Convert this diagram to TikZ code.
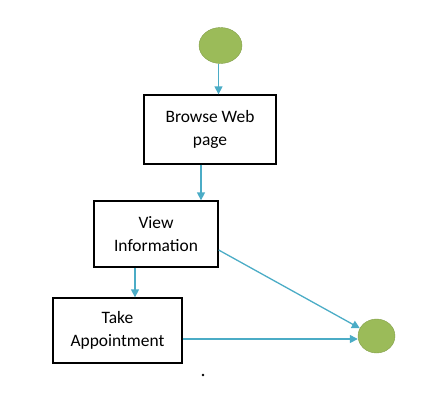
\documentclass[tikz,border=0pt]{standalone}
\usepackage{fontspec}
\setmainfont{Carlito}
\usetikzlibrary{shapes.geometric,arrows.meta}
\definecolor{flowteal}{HTML}{4BACC6}
\definecolor{circgreen}{HTML}{9BBB59}
\tikzset{
  stepbox/.style={draw=black,line width=1.3bp,fill=white,minimum width=#1,align=center,inner sep=0pt,
    font=\fontsize{17.5}{23}\selectfont},
  circ/.style={ellipse,fill=circgreen,draw=circgreen!85!black,line width=0.4bp,inner sep=0pt},
  flow/.style={draw=flowteal,line width=1.3bp,-{Triangle[length=8bp,width=8bp]}}
}
\begin{document}
\begin{tikzpicture}[x=1bp,y=-1bp]
\useasboundingbox (0,0) rectangle (443,415);
\node[circ,minimum width=43bp,minimum height=36bp] (start) at (220.5,45.5) {};
\node[stepbox=132bp,minimum height=69bp] (browse) at (210,129.5) {Browse Web\\page};
\node[stepbox=124bp,minimum height=66bp] (view) at (156,234) {View\\Information};
\node[stepbox=129bp,minimum height=65bp] (take) at (117.5,330.5) {Take\\Appointment};
\node[circ,minimum width=37bp,minimum height=34bp] (endc) at (376.5,336) {};
\fill (203,375) circle (1.3bp);
\coordinate (s1) at ([xshift=-2bp]start.south);
\draw[flow] (s1) -- (s1 |- browse.north);
\coordinate (b1) at ([xshift=-9bp]browse.south);
\draw[flow] (b1) -- (b1 |- view.north);
\coordinate (v1) at ([xshift=-21bp]view.south);
\draw[flow] (v1) -- (v1 |- take.north);
\coordinate (v2) at ([yshift=-16bp]view.east);
\draw[flow] (v2) -- (endc.155);
\coordinate (t1) at ([yshift=-8.5bp]take.east);
\draw[flow] (t1) -- (t1 -| endc.west);
\end{tikzpicture}
\end{document}
